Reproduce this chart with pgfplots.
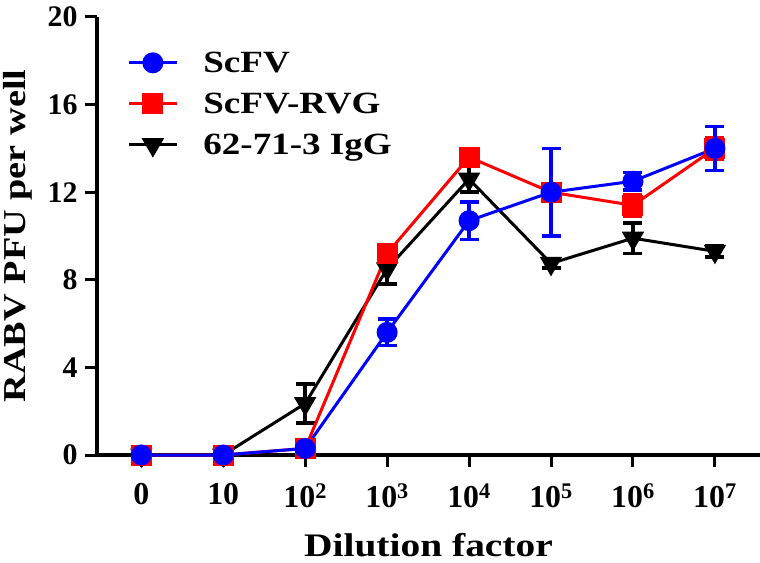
\documentclass[border=0pt]{standalone}
\usepackage{fontspec}
\setmainfont{Liberation Serif}
\newfontfamily\widefont[FakeStretch=1.2]{Liberation Serif}
\usepackage{pgfplots}
\pgfplotsset{compat=1.18}
\definecolor{cblue}{RGB}{0,0,255}
\definecolor{cred}{RGB}{255,0,0}
\begin{document}
\begin{tikzpicture}
\begin{axis}[
  scale only axis, width=663bp, height=438bp,
  xmin=-0.54, xmax=7.55, ymin=0, ymax=20,
  axis lines*=left,
  axis line style={line width=3.2bp, black},
  xtick={0,1,2,3,4,5,6,7},
  xticklabels={0,10,10\textsuperscript{2},10\textsuperscript{3},10\textsuperscript{4},10\textsuperscript{5},10\textsuperscript{6},10\textsuperscript{7}},
  ytick={0,4,8,12,16,20},
  tick align=outside, major tick length=12bp,
  tick style={line width=3bp, black},
  /pgf/number format/assume math mode=true,
  xticklabel style={font=\fontsize{32}{36}\selectfont\bfseries, yshift=-13bp},
  yticklabel style={font=\fontsize{30}{34}\selectfont\bfseries, xshift=-4bp},
  clip=false,
  xlabel={Dilution factor},
  ylabel={RABV PFU per well},
  xlabel style={font=\widefont\fontsize{33}{38}\selectfont\bfseries, at={(axis description cs:0.5,0)}, anchor=center, yshift=-90bp, inner sep=0pt},
  ylabel style={font=\widefont\fontsize{32}{36}\selectfont\bfseries, at={(axis description cs:-0.1192,0.5)}, anchor=center, inner sep=0pt},
  legend style={at={(axis description cs:0.041,0.93)}, anchor=north west, draw=none, fill=none,
    font=\widefont\fontsize{31}{36}\selectfont\bfseries, row sep=15bp,
    /tikz/every odd column/.append style={column sep=23bp}},
  legend cell align=left,
  reverse legend,
  legend image code/.code={\draw[mark repeat=2,mark phase=2,#1] plot coordinates {(0bp,0bp) (24bp,0bp) (48bp,0bp)};},
  every axis plot/.append style={line width=3bp},
  error bars/y dir=both, error bars/y explicit,
  error bars/error mark=-,
  error bars/error mark options={rotate=90, mark size=9.5bp, line width=3.5bp},
  error bars/error bar style={line width=3.5bp},
]
\addplot[black, mark=triangle*, mark options={rotate=180, mark size=10bp, solid}] coordinates {
  (0,0) +- (0,0)
  (1,0) +- (0,0)
  (2,2.35) +- (0,0.9)
  (3,8.5) +- (0,0.7)
  (4,12.6) +- (0,0.6)
  (5,8.75) +- (0,0.2)
  (6,9.9) +- (0,0.7)
  (7,9.3) +- (0,0.25)
};
\addlegendentry{62-71-3 IgG}
\addplot[cred, mark=square*, mark options={mark size=9bp, solid}] coordinates {
  (0,0) +- (0,0)
  (1,0) +- (0,0)
  (2,0.3) +- (0,0.1)
  (3,9.2) +- (0,0.3)
  (4,13.6) +- (0,0.25)
  (5,12.0) +- (0,0.3)
  (6,11.4) +- (0,0.5)
  (7,14.0) +- (0,0.5)
};
\addlegendentry{ScFV-RVG}
\addplot[cblue, mark=*, mark options={mark size=9bp, solid}] coordinates {
  (0,0) +- (0,0)
  (1,0) +- (0,0)
  (2,0.3) +- (0,0.1)
  (3,5.6) +- (0,0.6)
  (4,10.7) +- (0,0.85)
  (5,12.0) +- (0,2.0)
  (6,12.5) +- (0,0.4)
  (7,14.0) +- (0,1.0)
};
\addlegendentry{ScFV}
\end{axis}
\pgfresetboundingbox
\path[use as bounding box] (-97bp,-108bp) rectangle (663bp,455bp);
\end{tikzpicture}
\end{document}
